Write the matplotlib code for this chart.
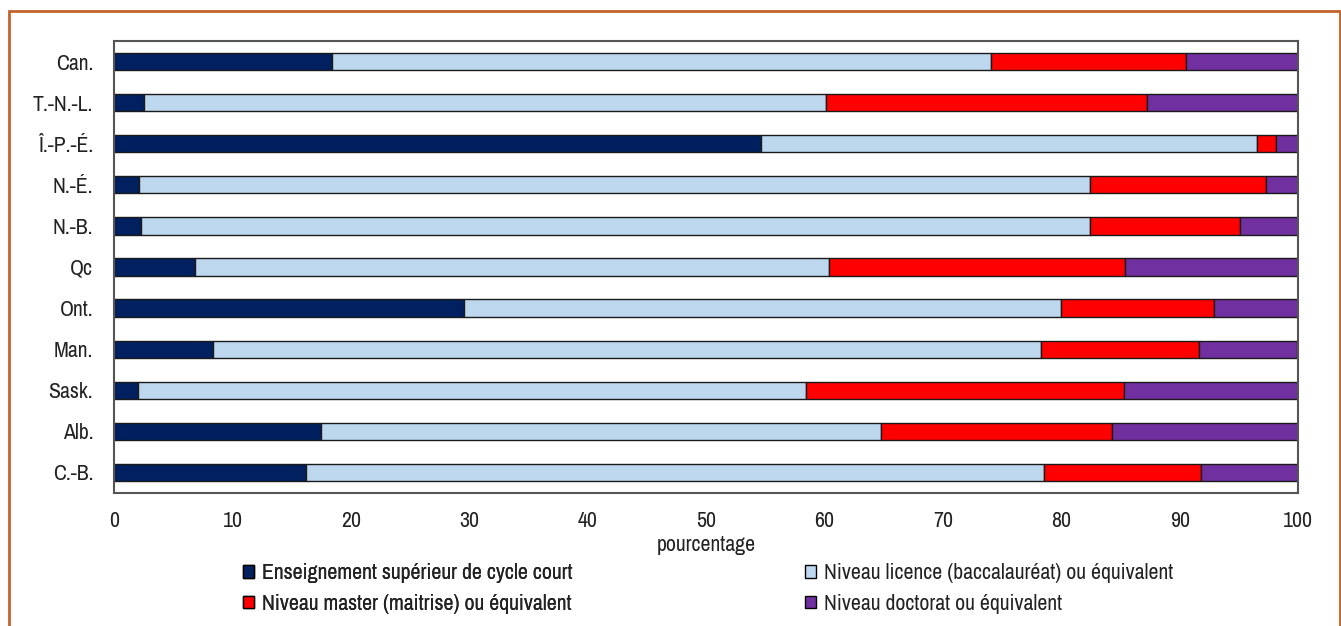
import matplotlib
matplotlib.use("Agg")
import matplotlib.pyplot as plt
from matplotlib.patches import Rectangle, Patch
from matplotlib import font_manager
from matplotlib.font_manager import FontProperties

# ---- font selection: prefer a condensed sans ----
cands = []
for f in font_manager.fontManager.ttflist:
    nm = f.name.lower()
    fn = f.fname.lower()
    if f.style != 'normal' or f.weight not in (400, 'normal', 'regular'):
        continue
    score = None
    if 'narrow' in nm or 'narrow' in fn:
        score = 0
    elif 'condensed' in nm or 'condensed' in fn or f.stretch in ('condensed', 'semi-condensed'):
        if 'semi' in fn or 'semi' in nm:
            score = 2
        else:
            score = 1
    if score is not None and 'bold' not in fn and 'oblique' not in fn and 'italic' not in fn:
        cands.append((score, f.fname))
cands.sort()
if cands:
    FP = FontProperties(fname=cands[0][1])
else:
    FP = FontProperties(family='Roboto')

categories = ['Can.', 'T.-N.-L.', 'Î.-P.-É.', 'N.-É.', 'N.-B.', 'Qc', 'Ont.', 'Man.', 'Sask.', 'Alb.', 'C.-B.']
court = [18.4, 2.5, 54.6, 2.1, 2.3, 6.8, 29.6, 8.4, 2.0, 17.5, 16.2]
licence = [55.7, 57.6, 41.9, 80.3, 80.1, 53.6, 50.4, 69.9, 56.4, 47.3, 62.3]
master = [16.4, 27.1, 1.6, 14.9, 12.7, 25.0, 12.9, 13.3, 26.9, 19.5, 13.3]
doctorat = [9.5, 12.8, 1.9, 2.7, 4.9, 14.6, 7.1, 8.3, 14.7, 15.7, 8.2]

series_names = ['Enseignement supérieur de cycle court',
                'Niveau licence (baccalauréat) ou équivalent',
                'Niveau master (maitrise) ou équivalent',
                'Niveau doctorat ou équivalent']
colors = ['#002060', '#BDD7EE', '#FF0000', '#7030A0']
xticks = [0, 10, 20, 30, 40, 50, 60, 70, 80, 90, 100]

fig = plt.figure(figsize=(13.41, 6.26), dpi=100)

# pick font size so the first legend label is ~311 px wide, as in the reference
renderer = fig.canvas.get_renderer()
probe = FP.copy()
probe.set_size(14)
t = fig.text(0, 0, series_names[0], fontproperties=probe)
w = t.get_window_extent(renderer).width
t.remove()
fs = max(10.0, min(16.0, 14 * 311.0 / w))

def fp():
    p = FP.copy()
    p.set_size(fs)
    return p

ax = fig.add_axes([0.085, 0.2125, 0.883, 0.722])

ypos = list(range(len(categories)))
left = [0.0] * len(categories)
handles = []
for vals, name, col in zip([court, licence, master, doctorat], series_names, colors):
    ax.barh(ypos, vals, left=left, height=0.42, color=col, edgecolor='#1a1a1a', linewidth=1.0, label=name)
    left = [l + v for l, v in zip(left, vals)]
    handles.append(Patch(facecolor=col, edgecolor='#000000', linewidth=1.0, label=name))

ax.set_xlim(0, 100)
ax.set_ylim(10.5, -0.5)
ax.set_yticks(ypos)
ax.set_yticklabels(categories, fontproperties=fp(), color='#222222')
ax.set_xticks(xticks)
ax.set_xticklabels([str(v) for v in xticks], fontproperties=fp(), color='#222222')
ax.tick_params(axis='x', length=0, pad=13)
ax.tick_params(axis='y', length=0, pad=15)
for s in ax.spines.values():
    s.set_color('#555555')
    s.set_linewidth(1.5)
ax.set_xlabel('pourcentage', fontproperties=fp(), color='#222222', labelpad=3)

fs_px = fs * 100 / 72.0
common = dict(frameon=False, prop=fp(), handlelength=11 / fs_px, handleheight=11 / fs_px,
              handletextpad=8 / fs_px, borderpad=0, borderaxespad=0,
              labelspacing=(38 - 1.25 * fs_px) / fs_px, loc='center left')
leg1 = fig.legend([handles[0], handles[2]], [series_names[0], series_names[2]],
                  bbox_to_anchor=(243 / 1341, 1 - 588.5 / 626), **common)
leg2 = fig.legend([handles[1], handles[3]], [series_names[1], series_names[3]],
                  bbox_to_anchor=(805 / 1341, 1 - 588.5 / 626), **common)
fig.add_artist(leg1)
for lg in (leg1, leg2):
    for tx in lg.get_texts():
        tx.set_color('#222222')

fig.patches.append(Rectangle((8.5 / 1341, -0.1), 1331 / 1341, 1.1 - 10.5 / 626,
                             transform=fig.transFigure, fill=False,
                             edgecolor='#C0652B', linewidth=2.0))

fig.savefig('out.png', dpi=100)
